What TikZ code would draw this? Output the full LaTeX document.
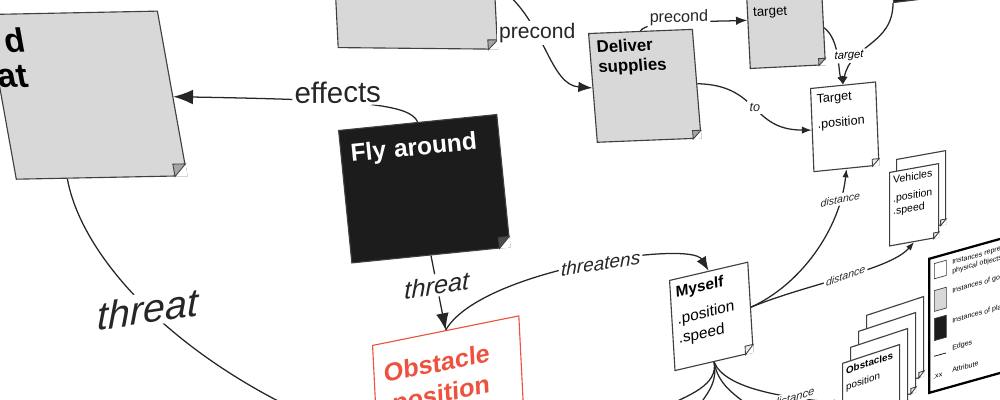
\documentclass[tikz,border=0pt]{standalone}
\usepackage{fontspec}
\setmainfont{Liberation Sans}
\setsansfont{Liberation Sans}
\usetikzlibrary{positioning,calc,arrows.meta}

\definecolor{goalgray}{RGB}{216,216,216}
\definecolor{foldgray}{RGB}{165,165,165}
\definecolor{planblack}{RGB}{28,28,28}
\definecolor{threatred}{RGB}{238,82,62}

\tikzset{
  note/.style={draw=black!75, line width=.8pt, anchor=north west, inner sep=4pt, align=left, font=\sffamily},
  goalnote/.style={note, fill=goalgray},
  objnote/.style={note, fill=white},
  plannote/.style={note, fill=planblack, text=white},
  rel/.style={line width=.9pt, black!85},
  relto/.style={rel, -{Latex[length=#1]}},
  relto/.default=7pt,
  lbl/.style={font=\sffamily, fill=white, inner sep=1.5pt},
  ilbl/.style={lbl, font=\sffamily\itshape},
  vehpage/.style={objnote, yslant=.18, inner sep=2.5pt, text width=1.05cm, text height=6pt, text depth=1.45cm, font={\fontsize{7.5}{9}\selectfont}},
  obspage/.style={objnote, yslant=.33, inner sep=2.5pt, text width=1.25cm, text height=6pt, text depth=1.6cm, font={\fontsize{7}{8.5}\selectfont}},
}

\newcommand\fold[3][6pt]{%
  \coordinate (#2-c) at (#2.south east);
  \coordinate (#2-a) at ($(#2.south east)!#1!(#2.south west)$);
  \coordinate (#2-b) at ($(#2.south east)!#1!(#2.north east)$);
  \fill[white] (#2-a) -- (#2-c) -- (#2-b) -- cycle;
  \filldraw[fill=#3, draw=black!75, line width=.6pt] (#2-a) -- (#2-b) -- ($(#2-a)+(#2-b)-(#2-c)$) -- cycle;
}

\begin{document}
\begin{tikzpicture}[x=.025cm, y=-.025cm]
        \useasboundingbox (0,0) rectangle (1000,400);

        \node[goalnote, xslant=-.18, yslant=.02, inner sep=9pt, text width=3.65cm, text height=18pt, text depth=2.85cm, font={\bfseries\fontsize{24}{25}\selectfont}] (avoid) at (-14,14) {d\\\hspace*{-9pt}at};
        \fold[9pt]{avoid}{foldgray}
        \node[goalnote, xslant=-.05, yslant=-.01, text width=3.7cm, minimum height=2.3cm] (tgoal) at (333,-45) {};
        \fold[7pt]{tgoal}{foldgray}
        \node[goalnote, xslant=-.08, yslant=.04, inner sep=5pt, text width=2.25cm, text height=9pt, text depth=2.05cm, font={\bfseries\fontsize{12}{14}\selectfont}] (deliver) at (588,33) {Deliver\\supplies};
        \fold{deliver}{foldgray}
        \node[goalnote, xslant=-.05, yslant=.05, inner xsep=4pt, inner ysep=9pt, text width=1.6cm, text height=7pt, text depth=.97cm, font={\fontsize{9.5}{11}\selectfont}] (reach) at (746,-6) {target};
        \fold[5pt]{reach}{foldgray}
        \node[plannote, yslant=.12, minimum width=.7cm, minimum height=1.55cm] (plan2) at (893,-60) {};

        \node[objnote, xslant=-.04, yslant=.1, text width=1.35cm, text height=7pt, text depth=1.55cm, font={\fontsize{9}{11}\selectfont}] (target) at (810,88) {Target\\[7pt].position};
        \fold[5pt]{target}{black!8}
        \node[plannote, xslant=-.1, yslant=.1, inner xsep=7pt, inner ysep=10pt, text width=3.5cm, text height=13pt, text depth=2.15cm, font={\bfseries\fontsize{17.5}{20}\selectfont}] (fly) at (338,130) {Fly around};
        \fold[8pt]{fly}{black!70}
        \node[objnote, draw=threatred, text=threatred, xslant=-.05, yslant=.2, inner xsep=7pt, inner ysep=15pt, text width=3.2cm, text height=13pt, text depth=2.3cm, font={\bfseries\fontsize{18}{22}\selectfont}] (obst) at (372,345) {Obstacle\\.position};
        \node[objnote, xslant=-.06, yslant=.23, inner xsep=4pt, inner ysep=5pt, text width=1.7cm, text height=8pt, text depth=1.62cm, font={\fontsize{11}{13}\selectfont}] (me) at (669,280) {\textbf{Myself}\\[6pt].position\\[1pt].speed};
        \fold{me}{black!8}

        \node[vehpage] (vehb) at (896,159) {};
        \fold[4pt]{vehb}{black!8}
        \node[vehpage] (veh) at (889,172) {Vehicles\\[4pt].position\\.speed};
        \fold[4pt]{veh}{black!8}
        \foreach \k in {3,2,1} {
            \node[obspage] (obsb\k) at (842+8*\k,363-16*\k) {};
            \fold[4pt]{obsb\k}{black!8}
        }
        \node[obspage] (obs) at (842,363) {\textbf{Obstacles}\\[3pt]position};
        \fold[4pt]{obs}{black!8}

        \begin{scope}[shift={(928,258)}, yslant=.28, transform shape]
            \node[draw, line width=1.6pt, anchor=north west, fill=white, minimum width=3.3cm, minimum height=3.35cm] (legend) at (0,0) {};
            \node[objnote, line width=.5pt, inner sep=0pt, minimum width=.3cm, minimum height=.38cm] (kobj) at (6,7) {};
            \node[goalnote, line width=.5pt, inner sep=0pt, minimum width=.3cm, minimum height=.52cm] (kgoal) at (6,34) {};
            \node[plannote, line width=.5pt, inner sep=0pt, minimum width=.3cm, minimum height=.55cm] (kplan) at (6,62) {};
            \draw[line width=.5pt] (6,100) -- (18,100);
            \node[anchor=west, inner sep=0pt, font={\fontsize{5}{6}\selectfont}] (kattr) at (5,121) {.xx};
            \node[anchor=west, align=left, inner sep=0pt, font={\fontsize{5}{6.5}\selectfont}] (tobj) at (24,16) {Instances representing\\physical objects};
            \node[anchor=west, inner sep=0pt, font={\fontsize{5}{6}\selectfont}] (tgoalk) at (24,40) {Instances of goals};
            \node[anchor=west, inner sep=0pt, font={\fontsize{5}{6}\selectfont}] (tplan) at (24,70) {Instances of plans};
            \node[anchor=west, inner sep=0pt, font={\fontsize{5}{6}\selectfont}] (tedge) at (24,97) {Edges};
            \node[anchor=west, inner sep=0pt, font={\fontsize{5}{6}\selectfont}] (tattr) at (24,119) {Attribute};
        \end{scope}

        \coordinate (thrend) at (300,412);
        \coordinate (pretop) at (505,-8);
        \coordinate (down1) at (662,408);
        \coordinate (down2) at (698,408);
        \coordinate (down3) at (752,408);

        \draw[relto=14pt] (fly.north) .. controls (410,104) and (360,100) .. node[lbl, pos=.6, above=-3pt, yslant=.02, font={\fontsize{21}{24}\selectfont}] {effects} (avoid);
        \draw[rel] ($(avoid.south west)!.3!(avoid.south east)$) .. controls (80,250) and (160,345) .. node[ilbl, pos=.55, yslant=.15, font={\itshape\fontsize{28}{30}\selectfont}] {threat} (thrend);
        \draw[relto=12pt] (fly.south) -- node[ilbl, pos=.4, yslant=.16, font={\itshape\fontsize{18}{20}\selectfont}] {threat} (obst.north);
        \draw[relto=10pt] (obst.north) .. controls (480,270) and (690,240) .. node[ilbl, pos=.55, yslant=.16, font={\itshape\fontsize{13.5}{15}\selectfont}] {threatens} (me.north);
        \draw[relto=10pt] (pretop) .. controls (545,25) and (550,85) .. node[lbl, pos=.35, font={\fontsize{15}{17}\selectfont}] {precond} (deliver.west);
        \draw[relto=8pt] (deliver.north) .. controls (648,20) and (700,22) .. node[lbl, pos=.5, yshift=3pt, yslant=.03, font={\fontsize{11.5}{13}\selectfont}] {precond} ($(reach.north west)!.7!(reach.west)$);
        \draw[relto=6pt] (plan2.south west) .. controls (893,45) and (850,45) .. (target.north);
        \draw[relto=6pt] (reach.east) .. controls (840,40) and (838,70) .. (target.north);
        \node[ilbl, yslant=.05, font={\itshape\fontsize{8}{9}\selectfont}] (tlab) at (849,56) {target};
        \draw[relto=7pt] (deliver.east) .. controls (760,85) and (750,130) .. node[ilbl, pos=.5, font={\itshape\fontsize{9}{10}\selectfont}] {to} (target.west);
        \draw[relto=6pt] (me.east) .. controls (800,285) and (840,230) .. node[ilbl, pos=.83, yslant=.2, font={\itshape\fontsize{7.5}{9}\selectfont}] {distance} (target.south);
        \draw[relto=6pt] (me.east) .. controls (810,283) and (890,270) .. node[ilbl, pos=.5, yslant=.35, font={\itshape\fontsize{7.5}{9}\selectfont}] {distance} (veh.south);
        \foreach \d/\c in {down1/690, down2/705, down3/735}
            \draw[rel] (me.south) .. controls (718,385) and (\c,395) .. (\d);
        \draw[relto=6pt] (me.south) .. controls (725,390) and (790,398) .. node[ilbl, pos=.7, yslant=.3, font={\itshape\fontsize{8}{9}\selectfont}] {distance} (obs.west);

    \end{tikzpicture}
\end{document}
